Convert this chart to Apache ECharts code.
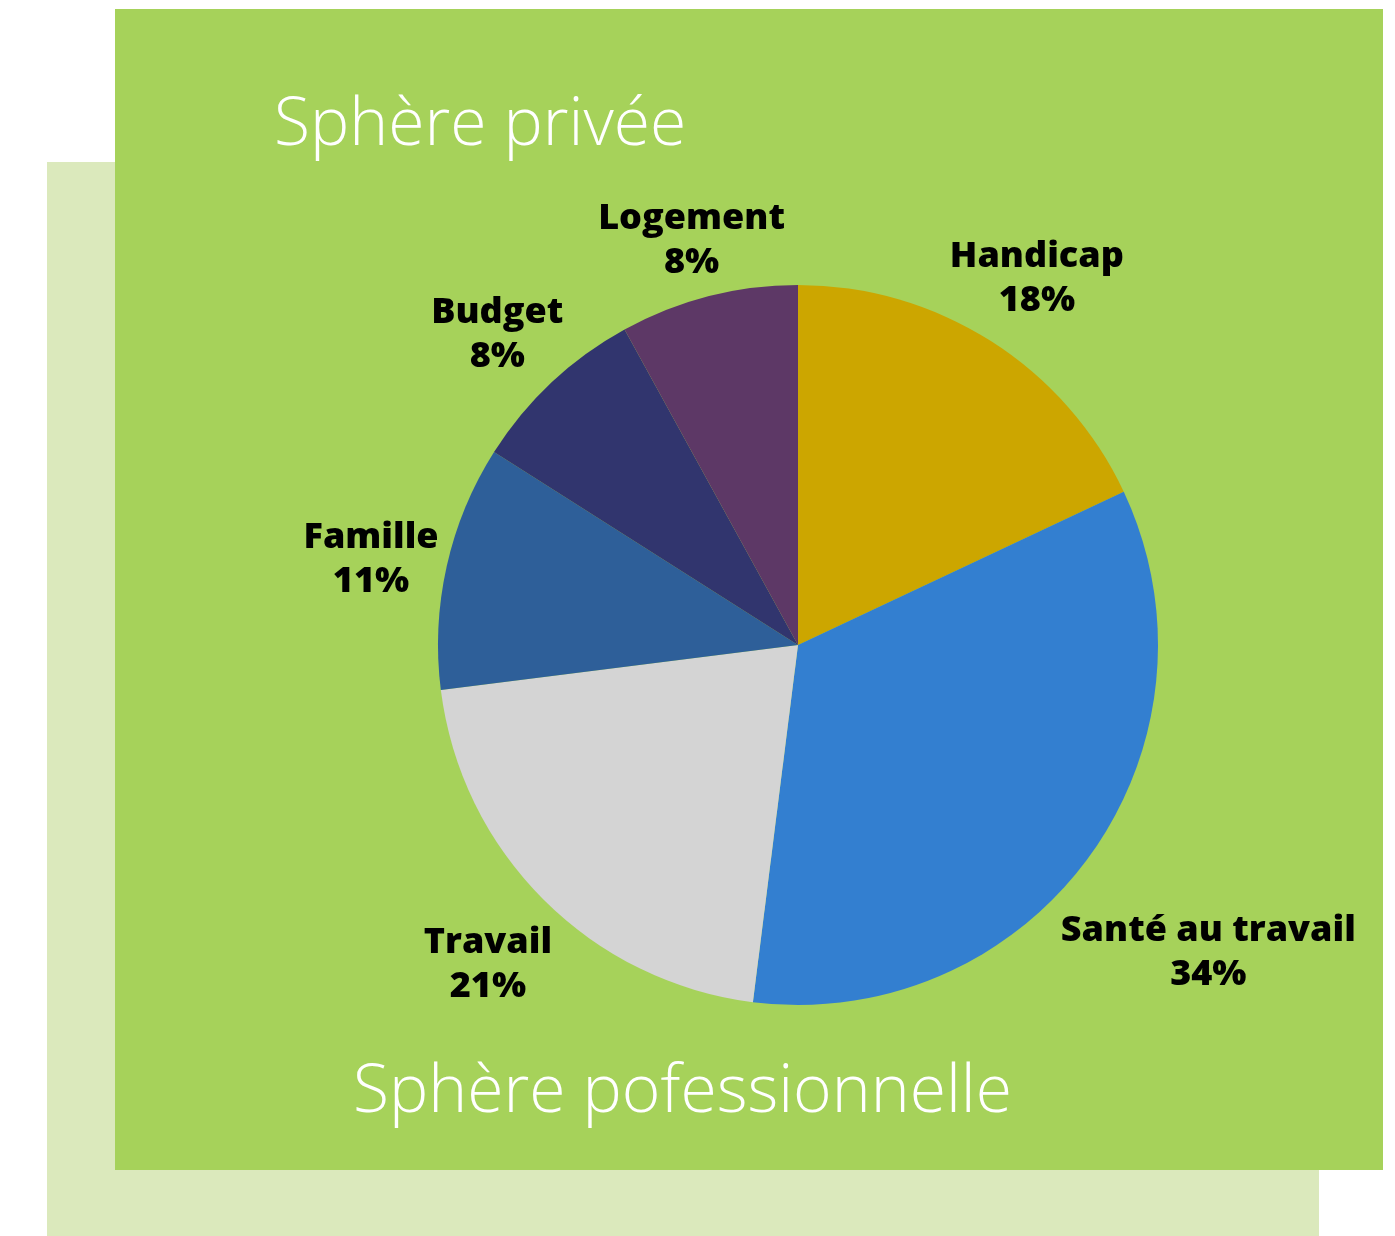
<!DOCTYPE html>
<html>
<head>
<meta charset="utf-8">
<script src="https://cdn.jsdelivr.net/npm/echarts@6/dist/echarts.min.js"></script>
<style>
  html, body { margin: 0; padding: 0; background: #fff; }
  #chart { width: 1395px; height: 1236px; }
</style>
</head>
<body>
<div id="chart"></div>
<script>
  const categories = ['Handicap', 'Santé au travail', 'Travail', 'Famille', 'Budget', 'Logement']
  const percents = [18, 34, 21, 11, 8, 8]
  const colors = ['#cca600', '#337fd0', '#d4d4d4', '#2e5f99', '#31356e', '#5d3866']
  const topTitle = 'Sphère privée'
  const bottomTitle = 'Sphère pofessionnelle'

  const CX = 798
  const CY = 645
  const R = 360
  const GAP = 2
  const LABEL_SHIFT_Y = 10

  const total = percents.reduce((a, b) => a + b, 0)
  const midAngle = idx => {
    let before = 0
    for (let i = 0; i < idx; i++) before += percents[i]
    return (before + percents[idx] / 2) / total * Math.PI * 2
  }

  const chart = echarts.init(document.getElementById('chart'))
  chart.setOption({
    animation: false,
    graphic: [
      { type: 'rect', shape: { x: 47, y: 162, width: 1272, height: 1074 }, style: { fill: '#dbe9bc' }, z: -10 },
      { type: 'rect', shape: { x: 115, y: 9, width: 1268, height: 1161 }, style: { fill: '#a6d25a' }, z: -9 },
      {
        type: 'text', x: 274, y: 93, z: 10,
        style: { text: topTitle, fill: '#fff', font: '300 66px "Open Sans"', verticalAlign: 'top' }
      },
      {
        type: 'text', x: 353, y: 1060, z: 10,
        style: { text: bottomTitle, fill: '#fff', font: '300 66px "Open Sans"', verticalAlign: 'top' }
      }
    ],
    series: [{
      type: 'pie',
      center: [CX, CY],
      radius: R,
      startAngle: 90,
      clockwise: true,
      avoidLabelOverlap: false,
      itemStyle: { borderWidth: 0 },
      label: {
        show: true,
        position: 'outside',
        formatter: p => `${p.name}\n${p.value}%`,
        fontFamily: 'Open Sans',
        fontWeight: 800,
        fontSize: 36,
        lineHeight: 44,
        color: '#000',
        align: 'center'
      },
      labelLine: { show: false },
      labelLayout: params => {
        const a = midAngle(params.dataIndex)
        const ux = Math.sin(a)
        const uy = -Math.cos(a)
        const w = params.labelRect.width
        const h = params.labelRect.height
        const d = R + GAP + Math.abs(ux) * w / 2 + Math.abs(uy) * h / 2
        return {
          x: CX + ux * d,
          y: CY + uy * d + LABEL_SHIFT_Y,
          align: 'center',
          verticalAlign: 'middle'
        }
      },
      data: categories.map((name, i) => ({
        name: name,
        value: percents[i],
        itemStyle: { color: colors[i] }
      }))
    }]
  })
</script>
</body>
</html>
